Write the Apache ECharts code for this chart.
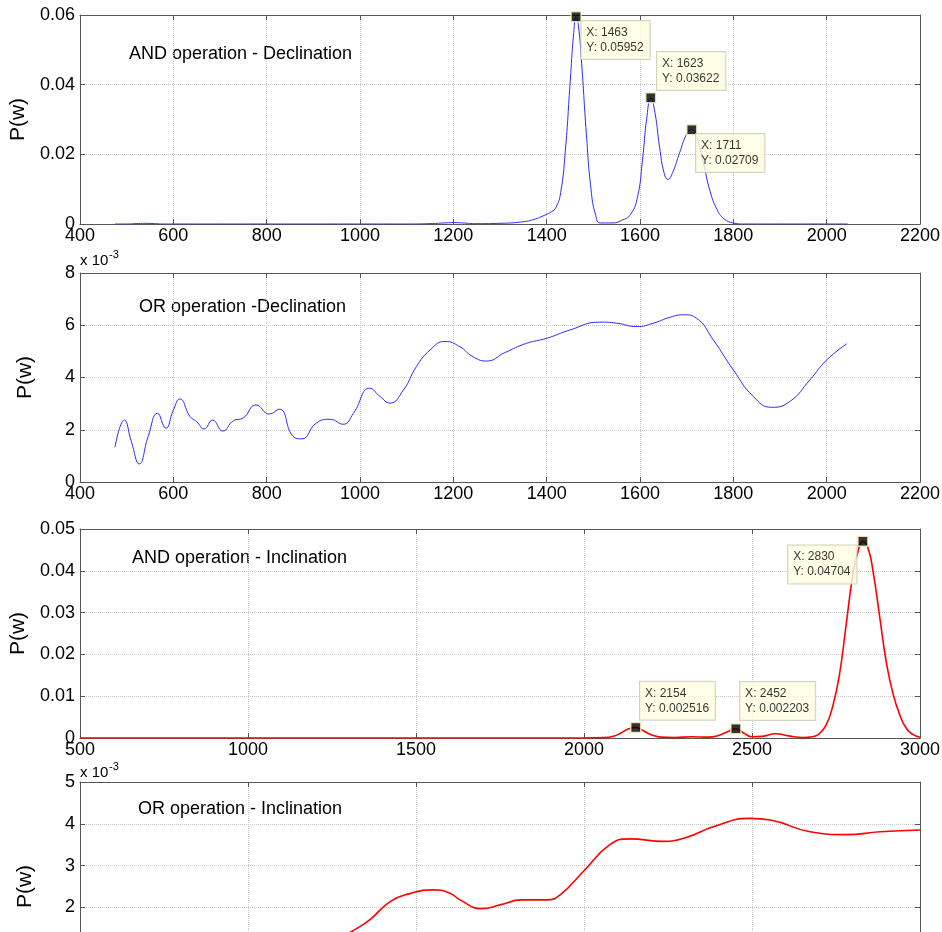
<!DOCTYPE html>
<html>
<head>
<meta charset="utf-8">
<script src="https://cdn.jsdelivr.net/npm/echarts@6/dist/echarts.min.js"></script>
<style>
  html, body { margin: 0; padding: 0; background: #fff; overflow: hidden; }
  #chart { width: 942px; height: 932px; }
</style>
</head>
<body>
<div id="chart"></div>
<script>
// AND operation - Declination
const andDecX = [475, 500, 520, 540, 560, 580, 600, 700, 800, 900, 1000, 1100, 1150, 1180, 1200, 1220, 1250, 1300, 1340, 1370, 1390, 1410, 1420, 1430, 1440, 1450, 1458, 1463, 1468, 1475, 1485, 1495, 1505, 1515, 1540, 1560, 1580, 1595, 1605, 1615, 1623, 1632, 1642, 1652, 1660, 1670, 1685, 1700, 1711, 1720, 1735, 1750, 1765, 1780, 1800, 1820, 1900, 2000, 2045];
const andDecY = [0, 0, 0.0001, 0.0002, 0.0001, 0, 0, 0, 0, 0, 0, 0, 0.0001, 0.0003, 0.0004, 0.0003, 0.0001, 0.0002, 0.0005, 0.0012, 0.0022, 0.0035, 0.0048, 0.009, 0.021, 0.040, 0.055, 0.05952, 0.057, 0.046, 0.026, 0.010, 0.0025, 0.0003, 0.0003, 0.001, 0.0028, 0.008, 0.018, 0.031, 0.03622, 0.032, 0.022, 0.0145, 0.0128, 0.0148, 0.0205, 0.0258, 0.02709, 0.0255, 0.018, 0.0095, 0.0042, 0.0015, 0.0003, 0, 0, 0, 0];

// OR operation - Declination (x 10^-3)
const orDecX = [475, 495, 510, 527, 546, 566, 584, 600, 614, 636, 650, 666, 684, 706, 729, 749, 777, 806, 827, 857, 875, 906, 936, 964, 986, 1021, 1043, 1064, 1093, 1121, 1150, 1182, 1214, 1240, 1271, 1310, 1357, 1400, 1450, 1514, 1550, 1593, 1629, 1660, 1693, 1721, 1757, 1800, 1843, 1882, 1921, 1964, 2000, 2043];
const orDecY = [1.33, 2.37, 1.55, 0.69, 1.74, 2.63, 2.06, 2.75, 3.18, 2.50, 2.31, 2.03, 2.37, 1.95, 2.35, 2.44, 2.95, 2.60, 2.79, 1.74, 1.65, 2.25, 2.40, 2.21, 2.63, 3.59, 3.27, 3.02, 3.52, 4.42, 5.05, 5.38, 5.18, 4.82, 4.63, 4.95, 5.31, 5.5, 5.82, 6.12, 6.08, 5.95, 6.08, 6.28, 6.40, 6.27, 5.44, 4.29, 3.27, 2.86, 3.08, 3.91, 4.67, 5.29];

// AND operation - Inclination
const andIncX = [500, 600, 800, 1000, 1500, 1900, 2000, 2060, 2090, 2110, 2130, 2154, 2175, 2200, 2230, 2270, 2320, 2370, 2400, 2430, 2452, 2475, 2500, 2530, 2570, 2610, 2650, 2680, 2700, 2720, 2740, 2760, 2780, 2800, 2815, 2830, 2845, 2860, 2880, 2900, 2920, 2940, 2960, 2980, 3000];
const andIncY = [0, 0, 0, 0, 0, 0, 0, 0.0001, 0.0005, 0.0012, 0.0021, 0.002516, 0.0018, 0.0008, 0.0002, 0.0001, 0.0003, 0.0002, 0.0006, 0.0016, 0.002203, 0.0012, 0.0003, 0.0004, 0.001, 0.0005, 0.0001, 0.0003, 0.001, 0.003, 0.0075, 0.015, 0.027, 0.039, 0.0445, 0.04704, 0.0455, 0.040, 0.029, 0.018, 0.0105, 0.0055, 0.0022, 0.0008, 0.0002];

// OR operation - Inclination (x 10^-3)
const orIncX = [500, 700, 900, 1100, 1200, 1260, 1304, 1363, 1423, 1482, 1551, 1601, 1631, 1695, 1750, 1814, 1889, 1929, 1998, 2077, 2137, 2236, 2306, 2385, 2494, 2554, 2673, 2782, 2881, 3000];
const orIncY = [0.6, 0.8, 0.7, 0.9, 1.0, 1.2, 1.40, 1.71, 2.14, 2.33, 2.42, 2.34, 2.18, 1.97, 2.06, 2.18, 2.18, 2.30, 2.86, 3.50, 3.64, 3.58, 3.68, 3.93, 4.13, 4.09, 3.81, 3.74, 3.81, 3.85];

// data tips
const decTipX = [1463, 1623, 1711];
const decTipY = [0.05952, 0.03622, 0.02709];
const incTipX = [2154, 2452, 2830];
const incTipY = [0.002516, 0.002203, 0.04704];

const panelTitles = ['AND operation - Declination', 'OR operation -Declination', 'AND operation - Inclination', 'OR operation - Inclination'];

const FONT = 'Liberation Sans, Arial, sans-serif';
const gridTops = [15, 273, 529, 782];
const xRanges = [[400, 2200, 200], [400, 2200, 200], [500, 3000, 500], [500, 3000, 500]];
const yRanges = [[0, 0.06, 0.02], [0, 8, 2], [0, 0.05, 0.01], [0, 5, 1]];
const titlePos = [[129, 45], [139, 298], [132, 549], [138, 800]];

const chart = echarts.init(document.getElementById('chart'));

const grids = [], xAxes = [], yAxes = [];
const plain = function (v) { return String(v); };
gridTops.forEach(function (top, i) {
  grids.push({ left: 80, top: top, width: 840, height: 209, show: false, outerBoundsMode: 'none', containLabel: false });
  const lineStyle = { color: '#555', width: 1 };
  const tick = { show: true, inside: true, length: 5, lineStyle: lineStyle };
  xAxes.push({
    type: 'value', gridIndex: i, position: 'bottom',
    min: xRanges[i][0], max: xRanges[i][1], interval: xRanges[i][2],
    axisLine: { show: true, onZero: false, lineStyle: lineStyle },
    axisTick: tick,
    axisLabel: { color: '#000', fontSize: 18, fontFamily: FONT, margin: 3, formatter: plain },
    splitLine: { show: true, lineStyle: { color: '#c8c8c8', type: 'dotted' } }
  });
  xAxes.push({
    type: 'value', gridIndex: i, position: 'top',
    min: xRanges[i][0], max: xRanges[i][1], interval: xRanges[i][2],
    axisLine: { show: true, onZero: false, lineStyle: lineStyle },
    axisTick: tick, axisLabel: { show: false }, splitLine: { show: false }
  });
  yAxes.push({
    type: 'value', gridIndex: i, position: 'left',
    min: yRanges[i][0], max: yRanges[i][1], interval: yRanges[i][2],
    name: 'P(w)', nameLocation: 'middle', nameGap: 44,
    nameTextStyle: { color: '#000', fontSize: 21, fontFamily: FONT },
    axisLine: { show: true, onZero: false, lineStyle: lineStyle },
    axisTick: tick,
    axisLabel: { color: '#000', fontSize: 18, fontFamily: FONT, margin: 5, formatter: plain },
    splitLine: { show: true, lineStyle: { color: '#c8c8c8', type: 'dotted' } }
  });
  yAxes.push({
    type: 'value', gridIndex: i, position: 'right',
    min: yRanges[i][0], max: yRanges[i][1], interval: yRanges[i][2],
    axisLine: { show: true, onZero: false, lineStyle: lineStyle },
    axisTick: tick, axisLabel: { show: false }, splitLine: { show: false }
  });
});

function zip(xs, ys) {
  return xs.map(function (x, k) { return [x, ys[k]]; });
}

function lineSeries(i, xs, ys, color, width) {
  return {
    type: 'line', xAxisIndex: 2 * i, yAxisIndex: 2 * i,
    data: zip(xs, ys), showSymbol: false, smooth: 0.5,
    lineStyle: { color: color, width: width }, silent: true, animation: false, z: 3
  };
}

// label box offsets relative to the marker
const decTipOffsets = [[11, 10], [12, -40], [10, 10]];
const incTipOffsets = [[10, -40], [10, -41], [-69, 10]];

function tipSeries(i, xs, ys, offsets) {
  return {
    type: 'scatter', xAxisIndex: 2 * i, yAxisIndex: 2 * i,
    symbol: 'rect', symbolSize: 10, animation: false, silent: true, z: 5,
    itemStyle: { color: '#000', borderColor: '#fafac0', borderWidth: 1.5 },
    data: xs.map(function (x, k) {
      return { value: [x, ys[k]], label: { position: offsets[k] } };
    }),
    label: {
      show: true,
      formatter: function (p) { return 'X: ' + p.value[0] + '\nY: ' + p.value[1]; },
      color: '#000', fontSize: 12, lineHeight: 15, fontFamily: FONT,
      backgroundColor: '#ffffe1', borderColor: '#c8c8b4', borderWidth: 1,
      padding: [4, 6, 4, 5]
    }
  };
}

const graphics = panelTitles.map(function (t, i) {
  return {
    type: 'text', left: titlePos[i][0], top: titlePos[i][1],
    style: { text: t, fill: '#000', fontSize: 18, fontFamily: FONT }
  };
});
[[253, 249], [765, 761]].forEach(function (p) {
  graphics.push({ type: 'text', left: 80, top: p[0], style: { text: 'x 10', fill: '#000', fontSize: 15, fontFamily: FONT } });
  graphics.push({ type: 'text', left: 109, top: p[1], style: { text: '-3', fill: '#000', fontSize: 11, fontFamily: FONT } });
});

chart.setOption({
  animation: false,
  grid: grids,
  xAxis: xAxes,
  yAxis: yAxes,
  graphic: graphics,
  series: [
    lineSeries(0, andDecX, andDecY, '#2a2aff', 1),
    lineSeries(1, orDecX, orDecY, '#2a2aff', 1),
    lineSeries(2, andIncX, andIncY, '#ff0000', 1.6),
    lineSeries(3, orIncX, orIncY, '#ff0000', 1.6),
    tipSeries(0, decTipX, decTipY, decTipOffsets),
    tipSeries(2, incTipX, incTipY, incTipOffsets)
  ]
});
</script>
</body>
</html>
